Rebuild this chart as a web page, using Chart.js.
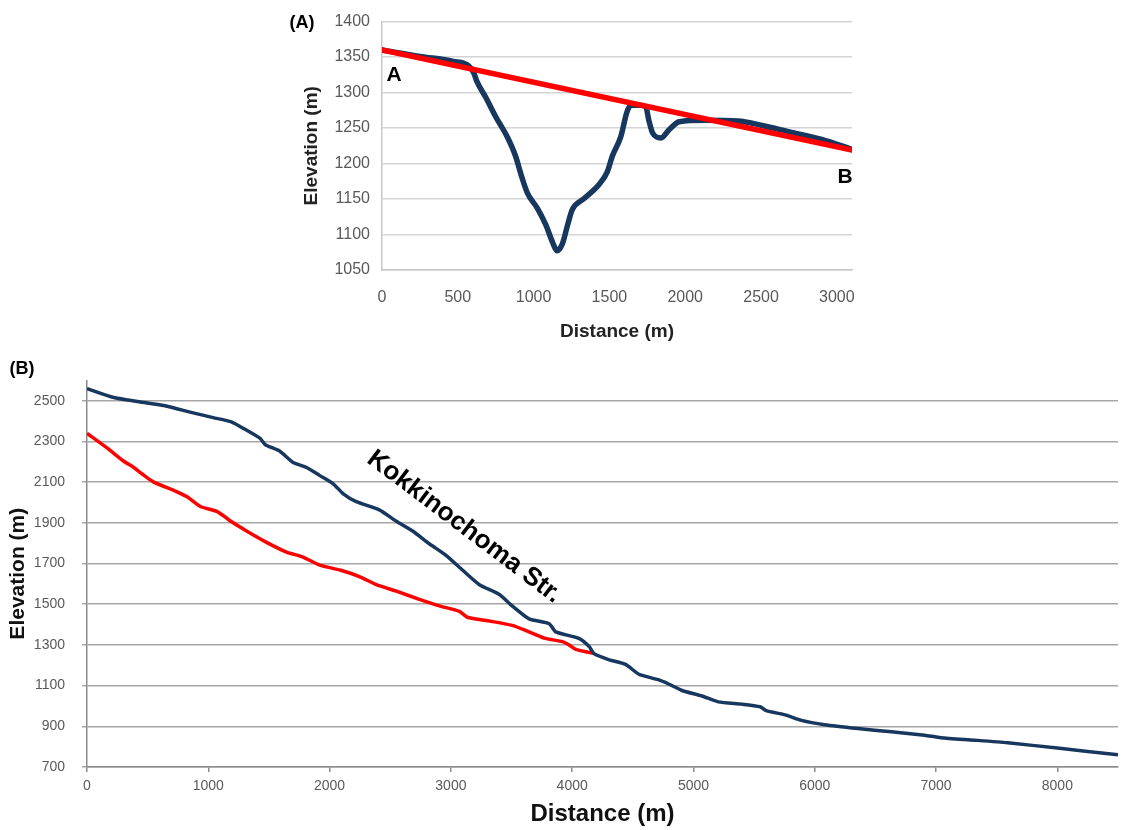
<!DOCTYPE html>
<html>
<head>
<meta charset="utf-8">
<title>Elevation profiles</title>
<script src="https://cdn.jsdelivr.net/npm/chart.js@4.4.1/dist/chart.umd.min.js"></script>
<style>
    html, body { margin: 0; padding: 0; background: #fff; }
    body { width: 1125px; height: 830px; position: relative; overflow: hidden; }
    #boxA { position: absolute; left: 280px; top: 0; width: 590px; height: 350px; }
    #boxB { position: absolute; left: 0; top: 355px; width: 1125px; height: 475px; }
</style>
</head>
<body>
<div id="boxA"><canvas id="profileA"></canvas></div>
<div id="boxB"><canvas id="profileB"></canvas></div>
<script>
// (A) cross profile from A to B
const distA = [0, 250, 470, 570, 605, 625, 685, 750, 825, 880, 925, 960, 1025, 1080, 1125, 1155, 1190, 1225, 1255, 1335, 1430, 1485, 1520, 1575, 1615, 1640, 1700, 1740, 1760, 1785, 1840, 1895, 1960, 2130, 2350, 2500, 2680, 2900, 3100];
const elevA = [1360, 1351, 1344, 1338, 1328, 1316, 1293, 1266, 1238, 1211, 1179, 1158, 1137, 1114, 1089, 1077, 1087, 1114, 1135, 1151, 1170, 1188, 1211, 1238, 1272, 1282, 1282, 1280, 1261, 1243, 1236, 1248, 1259, 1261, 1260, 1254, 1245, 1234, 1220];
const chordDistA = [0, 3100];
const chordElevA = [1360, 1219];
const xTicksA = [0, 500, 1000, 1500, 2000, 2500, 3000];
const yTicksA = [1050, 1100, 1150, 1200, 1250, 1300, 1350, 1400];

// (B) longitudinal profiles
const distStream = [0, 220, 495, 660, 850, 1040, 1190, 1290, 1425, 1470, 1590, 1700, 1810, 1920, 2030, 2110, 2220, 2410, 2550, 2685, 2825, 2960, 3095, 3235, 3400, 3505, 3645, 3810, 3865, 4055, 4140, 4180, 4300, 4440, 4550, 4710, 4795, 4905, 5070, 5205, 5400, 5550, 5600, 5755, 5890, 6080, 6355, 6630, 6905, 7040, 7315, 7590, 8000, 8500];
const elevStream = [2560, 2516, 2489, 2473, 2444, 2417, 2396, 2364, 2316, 2284, 2252, 2196, 2172, 2132, 2092, 2044, 2004, 1964, 1908, 1860, 1796, 1740, 1668, 1596, 1548, 1492, 1428, 1404, 1364, 1332, 1292, 1257, 1228, 1204, 1156, 1129, 1108, 1076, 1049, 1020, 1009, 996, 977, 956, 929, 908, 889, 873, 856, 844, 832, 819, 793, 760];
const distRed = [0, 165, 300, 385, 455, 550, 715, 825, 935, 1070, 1205, 1315, 1480, 1645, 1780, 1920, 2085, 2245, 2385, 2550, 2740, 2905, 3070, 3135, 3290, 3505, 3645, 3780, 3920, 3975, 4030, 4180];
const elevRed = [2340, 2268, 2204, 2172, 2140, 2100, 2060, 2028, 1980, 1956, 1900, 1860, 1804, 1756, 1732, 1692, 1668, 1636, 1596, 1564, 1524, 1492, 1465, 1436, 1420, 1396, 1364, 1332, 1316, 1300, 1278, 1258];
const xTicksB = [0, 1000, 2000, 3000, 4000, 5000, 6000, 7000, 8000];
const yTicksB = [700, 900, 1100, 1300, 1500, 1700, 1900, 2100, 2300, 2500];

const FONT = '"Liberation Sans", Arial, sans-serif';
const NAVY = '#17375e';
const RED = '#ff0000';

function toPoints(xs, ys) {
    return xs.map((x, i) => ({ x: x, y: ys[i] }));
}

function fixedTicks(values) {
    return function (scale) {
        scale.ticks = values.map(v => ({ value: v }));
    };
}

function plainNumber(value) {
    return String(value);
}

document.addEventListener('DOMContentLoaded', function () {
    Chart.defaults.font.family = FONT;
    Chart.defaults.animation = false;

    // Chart A
    const labelsA = {
        id: 'labelsA',
        afterDraw(chart) {
            const { ctx, scales: { x, y } } = chart;
            ctx.save();
            ctx.fillStyle = '#000';
            ctx.textAlign = 'center';
            ctx.textBaseline = 'middle';
            ctx.font = 'bold 18px ' + FONT;
            ctx.fillText('(A)', 22, 23);
            ctx.font = 'bold 21px ' + FONT;
            ctx.fillText('A', x.getPixelForValue(80), y.getPixelForValue(1324));
            ctx.fillText('B', x.getPixelForValue(3055), y.getPixelForValue(1181));
            ctx.restore();
        }
    };

    new Chart(document.getElementById('profileA').getContext('2d'), {
        type: 'line',
        data: {
            datasets: [{
                data: toPoints(chordDistA, chordElevA),
                borderColor: RED,
                borderWidth: 5.5,
                pointRadius: 0,
                borderCapStyle: 'round'
            }, {
                data: toPoints(distA, elevA),
                borderColor: NAVY,
                borderWidth: 5.5,
                pointRadius: 0,
                cubicInterpolationMode: 'monotone',
                borderCapStyle: 'round',
                borderJoinStyle: 'round'
            }]
        },
        options: {
            responsive: true,
            maintainAspectRatio: false,
            layout: { padding: { top: 16, right: 18, left: 0, bottom: 0 } },
            plugins: { legend: { display: false }, tooltip: { enabled: false } },
            scales: {
                x: {
                    type: 'linear',
                    min: 0,
                    max: 3100,
                    afterBuildTicks: fixedTicks(xTicksA),
                    afterFit: scale => { scale.height = 80; },
                    grid: { display: false },
                    border: { display: true, color: '#c8c8c8', width: 1.5 },
                    ticks: { color: '#595959', font: { size: 16 }, padding: 10, maxRotation: 0, callback: plainNumber },
                    title: {
                        display: true,
                        text: 'Distance (m)',
                        color: '#222',
                        font: { size: 19, weight: 'bold' },
                        padding: { top: 0, bottom: 7 }
                    }
                },
                y: {
                    min: 1050,
                    max: 1400,
                    afterBuildTicks: fixedTicks(yTicksA),
                    afterFit: scale => { scale.width = 102; },
                    grid: { color: '#d4d4d4', lineWidth: 1.5, drawTicks: false },
                    border: { display: true, color: '#c8c8c8', width: 1.5 },
                    ticks: { color: '#595959', font: { size: 16 }, padding: 12, callback: plainNumber },
                    title: {
                        display: true,
                        text: 'Elevation (m)',
                        color: '#222',
                        font: { size: 19, weight: 'bold' },
                        padding: { top: 20, bottom: 0 }
                    }
                }
            }
        },
        plugins: [labelsA]
    });

    // Chart B
    const labelsB = {
        id: 'labelsB',
        afterDraw(chart) {
            const { ctx, scales: { x, y } } = chart;
            ctx.save();
            ctx.fillStyle = '#000';
            ctx.textAlign = 'center';
            ctx.textBaseline = 'middle';
            ctx.font = 'bold 18px ' + FONT;
            ctx.fillText('(B)', 22, 14);
            ctx.translate(x.getPixelForValue(3110), y.getPixelForValue(1880));
            ctx.rotate(37 * Math.PI / 180);
            ctx.font = 'bold 26px ' + FONT;
            ctx.fillText('Kokkinochoma Str.', 0, 0);
            ctx.restore();
        }
    };

    new Chart(document.getElementById('profileB').getContext('2d'), {
        type: 'line',
        data: {
            datasets: [{
                data: toPoints(distStream, elevStream),
                borderColor: NAVY,
                borderWidth: 3.5,
                pointRadius: 0,
                tension: 0.2,
                borderJoinStyle: 'round'
            }, {
                data: toPoints(distRed, elevRed),
                borderColor: RED,
                borderWidth: 3.5,
                pointRadius: 0,
                tension: 0.2,
                borderJoinStyle: 'round'
            }]
        },
        options: {
            responsive: true,
            maintainAspectRatio: false,
            layout: { padding: { top: 17, right: 7, left: 0, bottom: 0 } },
            plugins: { legend: { display: false }, tooltip: { enabled: false } },
            scales: {
                x: {
                    type: 'linear',
                    min: 0,
                    max: 8500,
                    afterBuildTicks: fixedTicks(xTicksB),
                    afterFit: scale => { scale.height = 63; },
                    grid: { drawOnChartArea: false, drawTicks: true, tickLength: 5, color: '#8c8c8c', lineWidth: 1.5 },
                    border: { display: true, color: '#8c8c8c', width: 1.5 },
                    ticks: { color: '#595959', font: { size: 14 }, padding: 6, maxRotation: 0, callback: plainNumber },
                    title: {
                        display: true,
                        text: 'Distance (m)',
                        color: '#111',
                        font: { size: 24, weight: 'bold' },
                        padding: { top: 0, bottom: 1 }
                    }
                },
                y: {
                    min: 700,
                    max: 2600,
                    afterBuildTicks: fixedTicks(yTicksB),
                    afterFit: scale => { scale.width = 87; },
                    grid: { color: '#a6a6a6', lineWidth: 1.5, drawTicks: true, tickLength: 5 },
                    border: { display: true, color: '#8c8c8c', width: 1.5 },
                    ticks: { color: '#595959', font: { size: 14 }, padding: 17, callback: plainNumber },
                    title: {
                        display: true,
                        text: 'Elevation (m)',
                        color: '#111',
                        font: { size: 21, weight: 'bold' },
                        padding: { top: 6, bottom: 0 }
                    }
                }
            }
        },
        plugins: [labelsB]
    });
});
</script>
</body>
</html>
